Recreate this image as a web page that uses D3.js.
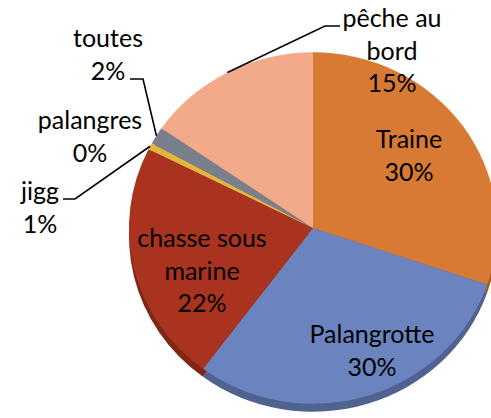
<!DOCTYPE html>
<html>
<head>
<meta charset="utf-8">
<script src="https://cdn.jsdelivr.net/npm/d3@7"></script>
<style>
  html, body { margin: 0; padding: 0; background: #fff; }
  text { font-family: Lato, "Open Sans", sans-serif; font-size: 25px; fill: #000; }
</style>
</head>
<body>
<div id="chart"></div>
<script>
// data, clockwise from 12 o'clock
const categories = ['Traine', 'Palangrotte', 'chasse sous marine', 'jigg', 'palangres', 'toutes', 'pêche au bord'];
const values = [30.2, 30.0, 22.2, 0.6, 0, 1.6, 15.4];
const colors = ['#d87a34', '#6b84bf', '#a9331f', '#e6b53c', '#8fa86a', '#7a7f8c', '#f3aa8b'];
// label lines (text wrapped the way the chart shows it)
const labelLines = [['Traine'], ['Palangrotte'], ['chasse sous', 'marine'], ['jigg'], ['palangres'], ['toutes'], ['pêche au', 'bord']];

const width = 491, height = 418;
const cx = 313, cy = 228, r = 184, tilt = 0.955, depth = 8;

// where each label block sits (center x, first baseline y), leader goes label -> slice
const labelLayout = [
  { x: 409, y: 148 },
  { x: 372, y: 343 },
  { x: 202, y: 247 },
  { x: 40, y: 200, leader: [[63, 199], [75, 199]] },
  { x: 90, y: 129 },
  { x: 108, y: 47, leader: [[130, 79], [143, 79]] },
  { x: 392, y: 27, leader: [[340, 26], [325, 26]] }
];

const svg = d3.select('#chart').append('svg')
  .attr('width', width)
  .attr('height', height);

const pie = d3.pie().sort(null).value(d => d)(values);
const arc = d3.arc().innerRadius(0).outerRadius(r);

// side of the tilted disc
const side = svg.append('g')
  .attr('transform', `translate(${cx},${cy + depth}) scale(1,${tilt})`);
side.selectAll('path')
  .data(pie)
  .enter().append('path')
  .attr('d', arc)
  .attr('fill', (d, i) => d3.color(colors[i]).darker(0.8));

const face = svg.append('g')
  .attr('transform', `translate(${cx},${cy}) scale(1,${tilt})`);
face.selectAll('path')
  .data(pie)
  .enter().append('path')
  .attr('d', arc)
  .attr('fill', (d, i) => colors[i]);

// point on the rim at the middle of a slice
function rimPoint(d) {
  const a = (d.startAngle + d.endAngle) / 2;
  return [cx + r * Math.sin(a), cy - r * Math.cos(a) * tilt];
}

const fmt = v => Math.round(v) + '%';

pie.forEach((d, i) => {
  const lay = labelLayout[i];
  const lines = labelLines[i].concat([fmt(values[i])]);
  const t = svg.append('text')
    .attr('text-anchor', 'middle');
  lines.forEach((s, k) => {
    t.append('tspan')
      .attr('x', lay.x)
      .attr('y', lay.y + k * 32.5)
      .text(s);
  });
  if (lay.leader) {
    svg.append('path')
      .attr('d', d3.line()(lay.leader.concat([rimPoint(d)])))
      .attr('fill', 'none')
      .attr('stroke', '#000')
      .attr('stroke-width', 1.6);
  }
});
</script>
</body>
</html>
